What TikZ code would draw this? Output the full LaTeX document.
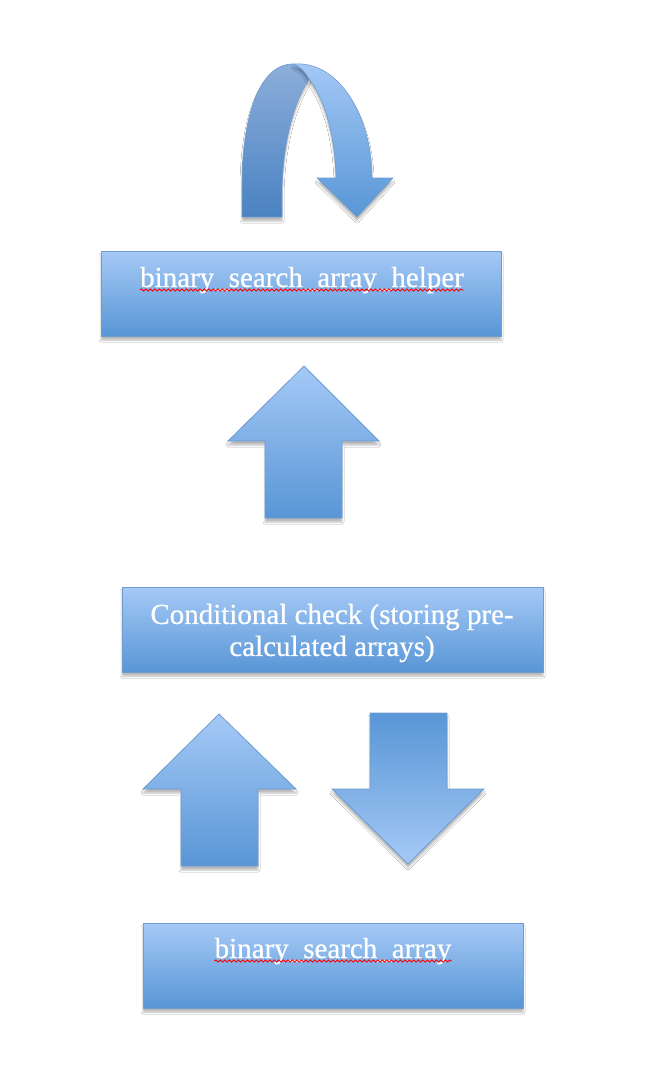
\documentclass[tikz,border=0pt]{standalone}
\usepackage{fontspec}
\setmainfont{Liberation Serif}
\newfontfamily\capfont{Liberation Serif}[UprightFeatures={FakeBold=0.6}]
\usetikzlibrary{shadows.blur,decorations.pathmorphing}

\definecolor{fillTop}{RGB}{165,201,246}
\definecolor{fillBot}{RGB}{88,150,214}
\definecolor{edgeBlue}{RGB}{112,156,206}
\definecolor{backTop}{RGB}{140,174,218}
\definecolor{backBot}{RGB}{74,130,194}

\tikzset{
  softshadow/.style={blur shadow={shadow xshift=0pt, shadow yshift=-4pt,
      shadow blur radius=2pt, shadow blur extra rounding=0pt, shadow opacity=28}},
  procbox/.style={rectangle, draw=edgeBlue, line width=0.8pt, inner sep=0pt,
      top color=fillTop, bottom color=fillBot, softshadow},
  boxtext/.style={text=white, font=\capfont\fontsize{29}{32}\selectfont, inner sep=0pt},
  blockup/.style={draw=edgeBlue, line width=0.8pt, line join=miter,
      top color=fillTop, bottom color=fillBot, softshadow},
  blockdown/.style={draw=edgeBlue, line width=0.8pt, line join=miter,
      top color=fillBot, bottom color=fillTop, softshadow},
  curlback/.style={draw=edgeBlue, line width=0.6pt,
      top color=backTop, bottom color=backBot, softshadow},
  curlfront/.style={draw=edgeBlue, line width=0.6pt,
      top color=fillTop, bottom color=fillBot, softshadow},
  squiggle/.style={draw=red, line width=0.9pt, decorate,
      decoration={snake, amplitude=1.1pt, segment length=4.5pt}},
}

\begin{document}
\begin{tikzpicture}[x=1pt, y=-1pt]
  \fill[white] (0,0) rectangle (654,1090);
  \useasboundingbox (0,0) rectangle (654,1090);

  % self-loop arrow above the helper box: rear band, then front band with head
  \path[curlback]
    (242,217) -- (242,185)
    .. controls (242,120) and (258,64) .. (293,64)
    .. controls (300,66) and (305,72) .. (309,79)
    .. controls (292,105) and (282,150) .. (282,195)
    -- (282,217) -- cycle;
  \path[curlfront]
    (293,64)
    .. controls (340,60) and (372,118) .. (372,178)
    -- (393,178) -- (357,217) -- (317,178) -- (336,178)
    .. controls (335,132) and (323,96) .. (309,79)
    .. controls (305,72) and (300,66) .. (293,64) -- cycle;

  % process boxes
  \node[procbox, minimum width=400pt, minimum height=85pt] (helper) at (301,293.5) {};
  \node[procbox, minimum width=421pt, minimum height=85pt] (cond) at (332.5,629.5) {};
  \node[procbox, minimum width=380pt, minimum height=85pt] (search) at (333,965.5) {};

  % box captions
  \node[boxtext, anchor=base] (helpertxt) at (302,287) {binary\_search\_array\_helper};
  \node[boxtext, align=center] (condtxt) at (332,633)
    {Conditional check (storing pre-\\calculated arrays)};
  \node[boxtext, anchor=base] (searchtxt) at (333,958) {binary\_search\_array};

  % spell-check underlines
  \draw[squiggle] ([yshift=-3pt]helpertxt.base west) -- ([yshift=-3pt]helpertxt.base east);
  \draw[squiggle] ([yshift=-3pt]searchtxt.base west) -- ([yshift=-3pt]searchtxt.base east);

  % block arrow: conditional check -> helper
  \path[blockup] (304,366) -- (379,441) -- (342,441) -- (342,518)
    -- (265,518) -- (265,441) -- (228,441) -- cycle;

  % block arrow: search -> conditional check
  \path[blockup] (219,714) -- (296,789) -- (258,789) -- (258,866)
    -- (181,866) -- (181,789) -- (143,789) -- cycle;

  % block arrow: conditional check -> search
  \path[blockdown] (370,713) -- (447,713) -- (447,789) -- (484,789)
    -- (408,864) -- (332,789) -- (370,789) -- cycle;
\end{tikzpicture}
\end{document}
